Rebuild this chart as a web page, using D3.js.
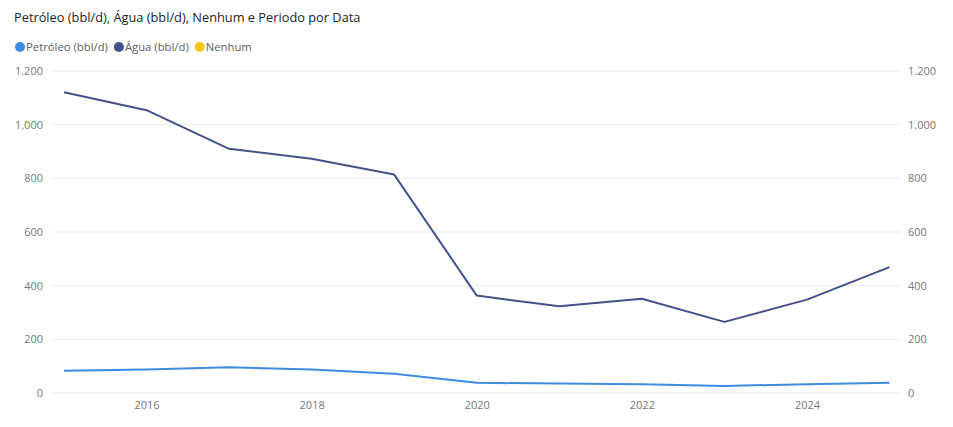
<!DOCTYPE html>
<html>
<head>
<meta charset="utf-8">
<script src="https://cdn.jsdelivr.net/npm/d3@7"></script>
<style>
  html, body { margin: 0; padding: 0; background: #fff; }
  svg { display: block; font-family: "Open Sans", "Noto Sans", sans-serif; }
</style>
</head>
<body>
<svg id="chart" width="953" height="427"></svg>
<script>
const title = "Petróleo (bbl/d), Água (bbl/d), Nenhum e Periodo por Data";
const years = [2015, 2016, 2017, 2018, 2019, 2020, 2021, 2022, 2023, 2024, 2025];
const petroleo = [83, 88, 96, 88, 72, 38, 35, 33, 26, 33, 38];
const agua = [1121, 1054, 910, 873, 814, 363, 323, 351, 265, 348, 469];
const xTicks = [2016, 2018, 2020, 2022, 2024];
const yTicks = [0, 200, 400, 600, 800, 1000, 1200];
const legendItems = ["Petróleo (bbl/d)", "Água (bbl/d)", "Nenhum"];
const legendColors = ["#3E8BE2", "#43528A", "#F5C518"];

(function () {
const svg = d3.select("#chart");
const pLeft = 53, pRight = 900, pTop = 71, pBottom = 393;

const x = d3.scaleLinear().domain([2014.867, 2025.127]).range([pLeft, pRight]);
const y = d3.scaleLinear().domain([0, 1200]).range([pBottom, pTop]);

const fmt = d3.formatLocale({decimal: ",", thousands: ".", grouping: [3], currency: ["", ""]}).format(",d");

// title
svg.append("text").attr("x", 14).attr("y", 22)
  .attr("font-size", 12.8).attr("fill", "#252423").text(title);

// legend
let lx = 20;
legendItems.forEach((name, i) => {
  svg.append("circle").attr("cx", lx).attr("cy", 47).attr("r", 5).attr("fill", legendColors[i]);
  const t = svg.append("text").attr("x", lx + 6).attr("y", 51)
    .attr("font-size", 11.3).attr("fill", "#605E5C").text(name);
  lx += 6 + t.node().getComputedTextLength() + 11;
});

// gridlines
svg.append("g").selectAll("line").data(yTicks).join("line")
  .attr("x1", pLeft).attr("x2", pRight)
  .attr("y1", d => y(d)).attr("y2", d => y(d))
  .attr("stroke", "#EBEBEB").attr("stroke-width", 1);

// left axis
const yl = svg.append("g").attr("transform", `translate(${pLeft},0)`)
  .call(d3.axisLeft(y).tickValues(yTicks).tickFormat(fmt).tickSize(0).tickPadding(10));
yl.select(".domain").remove();
yl.selectAll("text").attr("font-size", 11).attr("fill", "#777").attr("font-family", "\"Open Sans\", sans-serif");

// right axis
const yr = svg.append("g").attr("transform", `translate(${pRight},0)`)
  .call(d3.axisRight(y).tickValues(yTicks).tickFormat(fmt).tickSize(0).tickPadding(8));
yr.select(".domain").remove();
yr.selectAll("text").attr("font-size", 11).attr("fill", "#777").attr("font-family", "\"Open Sans\", sans-serif");

// x axis
const xa = svg.append("g").attr("transform", `translate(0,${pBottom})`)
  .call(d3.axisBottom(x).tickValues(xTicks).tickFormat(d3.format("d")).tickSize(0).tickPadding(8));
xa.select(".domain").remove();
xa.selectAll("text").attr("font-size", 11).attr("fill", "#777").attr("font-family", "\"Open Sans\", sans-serif");

// lines
const line = d3.line().x((d, i) => x(years[i])).y(d => y(d));
svg.append("path").datum(agua).attr("d", line)
  .attr("fill", "none").attr("stroke", legendColors[1]).attr("stroke-width", 2).attr("stroke-linejoin", "round");
svg.append("path").datum(petroleo).attr("d", line)
  .attr("fill", "none").attr("stroke", legendColors[0]).attr("stroke-width", 2).attr("stroke-linejoin", "round");
})();
</script>
</body>
</html>
